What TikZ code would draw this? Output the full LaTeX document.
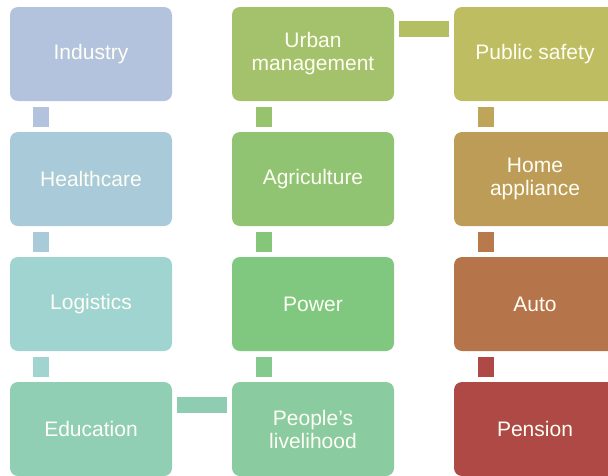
\documentclass[tikz,border=0pt]{standalone}
\usepackage{fontspec}
\setmainfont{Liberation Sans}
\begin{document}
\begin{tikzpicture}[x=1pt,y=-1pt,
  box/.style={rectangle,rounded corners=8pt,minimum width=162pt,minimum height=94pt,
    inner sep=0pt,text=white!96!yellow,align=center,font=\fontsize{21}{23}\selectfont},
  vcon/.style={rectangle,minimum width=16pt,minimum height=20pt,inner sep=0pt},
  hcon/.style={rectangle,minimum width=50pt,minimum height=16pt,inner sep=0pt}]
\definecolor{cInd}{RGB}{179,195,222}
\definecolor{cHea}{RGB}{168,202,217}
\definecolor{cLog}{RGB}{160,212,208}
\definecolor{cEdu}{RGB}{144,207,180}
\definecolor{cPeo}{RGB}{138,203,160}
\definecolor{cPow}{RGB}{128,200,128}
\definecolor{cAgr}{RGB}{145,196,114}
\definecolor{cUrb}{RGB}{164,194,108}
\definecolor{cPub}{RGB}{190,189,98}
\definecolor{cHom}{RGB}{189,156,88}
\definecolor{cAut}{RGB}{182,116,74}
\definecolor{cPen}{RGB}{174,73,69}
\definecolor{kA}{RGB}{143,205,178}
\definecolor{kB}{RGB}{132,201,142}
\definecolor{kC}{RGB}{134,198,122}
\definecolor{kD}{RGB}{152,195,110}
\definecolor{kE}{RGB}{180,191,100}
\definecolor{kF}{RGB}{190,165,90}
\definecolor{kG}{RGB}{184,122,76}
\useasboundingbox (0,0) rectangle (608,475);
% column 1
\node[box,fill=cInd] (ind) at (91,54) {Industry};
\node[box,fill=cHea] (hea) at (91,179) {Healthcare};
\node[box,fill=cLog] (log) at (91,304) {Logistics};
\node[box,fill=cEdu] (edu) at (91,429) {Education};
% column 2
\node[box,fill=cUrb] (urb) at (313,54) {Urban\\management};
\node[box,fill=cAgr] (agr) at (313,179) {Agriculture};
\node[box,fill=cPow] (pow) at (313,304) {Power};
\node[box,fill=cPeo] (peo) at (313,429) {People’s\\livelihood};
% column 3
\node[box,fill=cPub] (pub) at (535,54) {Public safety};
\node[box,fill=cHom] (hom) at (535,179) {Home\\appliance};
\node[box,fill=cAut] (aut) at (535,304) {Auto};
\node[box,fill=cPen] (pen) at (535,429) {Pension};
% connectors
\node[vcon,fill=cInd] (c1) at (41,117) {};
\node[vcon,fill=cHea] (c2) at (41,242) {};
\node[vcon,fill=cLog] (c3) at (41,367) {};
\node[hcon,fill=kA] (c4) at (202,405) {};
\node[vcon,fill=kB] (c5) at (264,367) {};
\node[vcon,fill=kC] (c6) at (264,242) {};
\node[vcon,fill=kD] (c7) at (264,117) {};
\node[hcon,fill=kE] (c8) at (424,29) {};
\node[vcon,fill=kF] (c9) at (486,117) {};
\node[vcon,fill=kG] (c10) at (486,242) {};
\node[vcon,fill=cPen] (c11) at (486,367) {};
\end{tikzpicture}
\end{document}
